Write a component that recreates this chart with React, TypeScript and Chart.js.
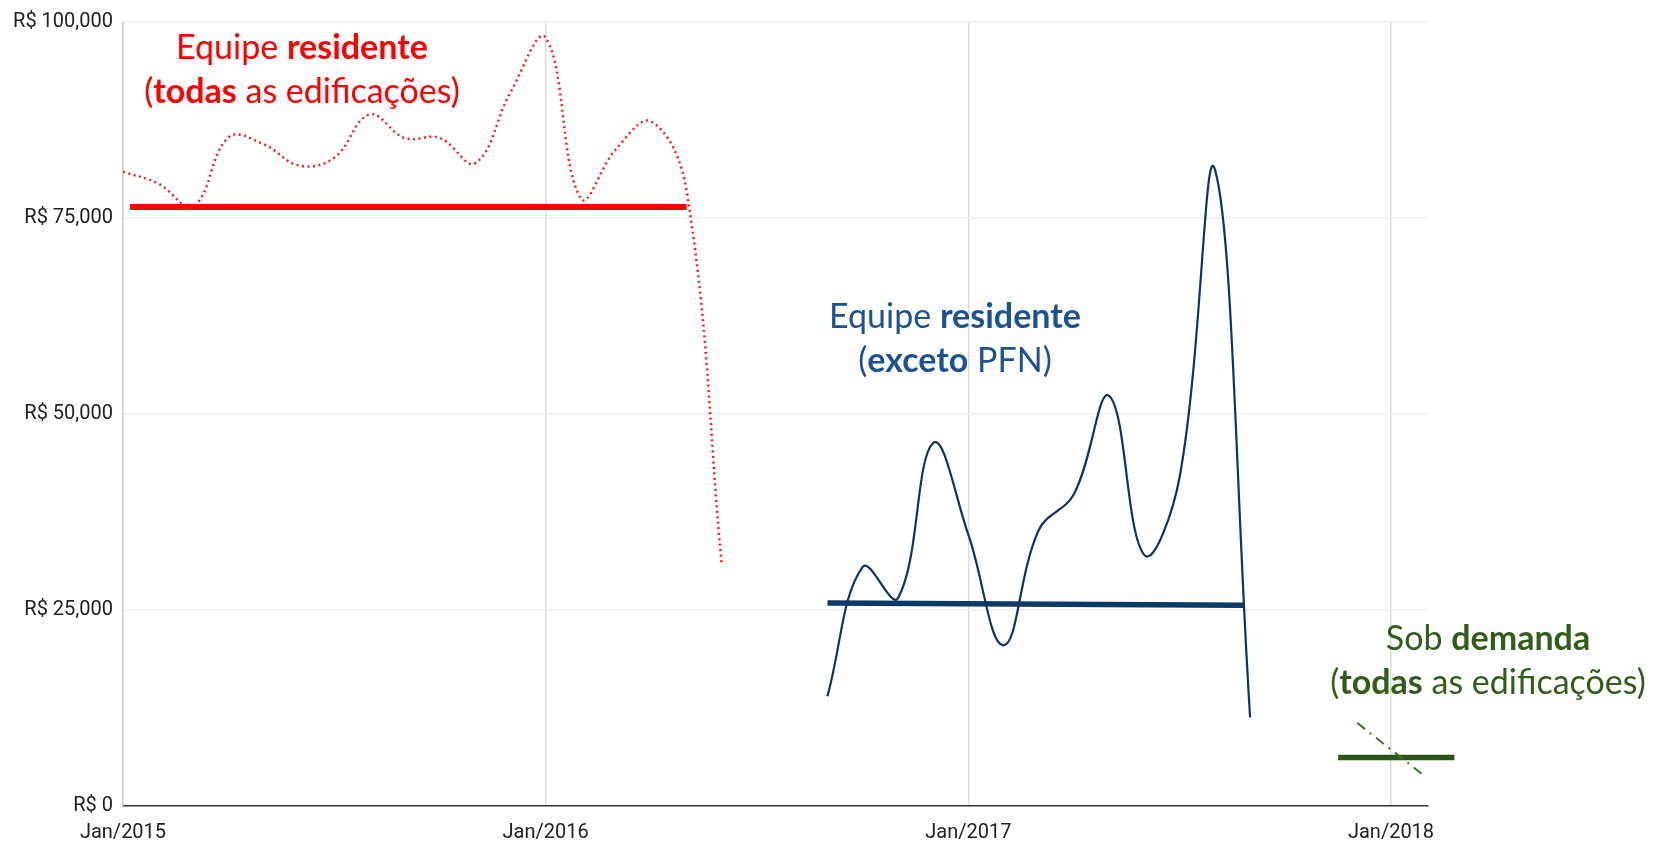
import React, { useEffect, useRef } from "react";
import { Chart, registerables } from "chart.js";

Chart.register(...registerables);

// months counted from Jan/2015 (0) ; Jan/2018 = 36
const xTickMonths = [0, 12, 24, 36];
const xTickLabels = ["Jan/2015", "Jan/2016", "Jan/2017", "Jan/2018"];
const yTicks = [0, 25000, 50000, 75000, 100000];

// Equipe residente (todas as edificações) – monthly cost
const redMonths = [0, 1, 2, 3, 4, 5, 6, 7, 8, 9, 10, 11, 12, 13, 14, 15, 16, 17];
const redValues = [80900, 79400, 76500, 85300, 84400, 81700, 82700, 88200, 85200, 85200, 82000, 91000, 98000, 77500, 83800, 87300, 78500, 30700];
// average line
const redAvgMonths = [0.2, 16];
const redAvgValues = [76400, 76400];

// Equipe residente (exceto PFN)
const blueMonths = [20, 21, 22, 23, 24, 25, 26, 27, 28, 29, 30, 31, 32];
const blueValues = [14000, 30500, 26500, 46300, 34600, 20500, 35200, 39800, 52300, 32000, 42000, 81200, 11300];
const blueAvgMonths = [20, 31.8];
const blueAvgValues = [25900, 25600];

// Sob demanda (todas as edificações)
const greenMonths = [35.04, 36.93];
const greenValues = [10600, 3900];
const greenAvgMonths = [34.5, 37.8];
const greenAvgValues = [6200, 6200];

const pts = (xs: number[], ys: number[]) => xs.map((x, i) => ({ x, y: ys[i] }));

export default function App() {
  const ref = useRef<HTMLCanvasElement | null>(null);

  useEffect(() => {
    document.body.style.margin = "0";
    const canvas = ref.current!;
    const chart = new Chart(canvas, {
      type: "line",
      data: {
        datasets: [
          {
            data: pts(redMonths, redValues),
            borderColor: "#ff1a1a",
            borderWidth: 2.5,
            borderDash: [2, 3.5],
            tension: 0.4,
            pointRadius: 0,
            fill: false,
          },
          {
            data: pts(redAvgMonths, redAvgValues),
            borderColor: "#ff0000",
            borderWidth: 6,
            pointRadius: 0,
            tension: 0,
          },
          {
            data: pts(blueMonths, blueValues),
            borderColor: "#0d3563",
            borderWidth: 2.2,
            tension: 0.4,
            pointRadius: 0,
          },
          {
            data: pts(blueAvgMonths, blueAvgValues),
            borderColor: "#0b3a68",
            borderWidth: 5.5,
            pointRadius: 0,
            tension: 0,
          },
          {
            data: pts(greenMonths, greenValues),
            borderColor: "#3a7a1c",
            borderWidth: 2,
            borderDash: [10, 6, 2, 6],
            pointRadius: 0,
            tension: 0,
            clip: false as any,
          },
          {
            data: pts(greenAvgMonths, greenAvgValues),
            borderColor: "#2b5716",
            borderWidth: 5.5,
            pointRadius: 0,
            tension: 0,
            clip: false as any,
          },
        ],
      },
      options: {
        animation: false,
        responsive: false,
        maintainAspectRatio: false,
        layout: { padding: { left: 0, top: 19, right: 227, bottom: 0 } },
        plugins: { legend: { display: false }, tooltip: { enabled: false } },
        scales: {
          x: {
            type: "linear",
            min: 0,
            max: 37.05,
            afterBuildTicks: (axis: any) => {
              axis.ticks = xTickMonths.map((v) => ({ value: v }));
            },
            afterFit: (s: any) => {
              s.height = 35;
            },
            ticks: {
              padding: 15,
              maxRotation: 0,
              autoSkip: false,
              color: "#222",
              font: { family: "Roboto", size: 20 },
              callback: (v: any) => {
                const i = xTickMonths.indexOf(Number(v));
                return i >= 0 ? xTickLabels[i] : "";
              },
            },
            grid: { color: "#dcdcdc", lineWidth: 1.5, drawTicks: false },
            border: { color: "#333", width: 1.5 },
          },
          y: {
            min: 0,
            max: 100000,
            afterBuildTicks: (axis: any) => {
              axis.ticks = yTicks.map((v) => ({ value: v }));
            },
            afterFit: (s: any) => {
              s.width = 123;
            },
            ticks: {
              padding: 10,
              color: "#222",
              font: { family: "Roboto", size: 20 },
              callback: (v: any) => "R$ " + Number(v).toLocaleString("en-US"),
            },
            grid: { color: "#efefef", lineWidth: 1.5, drawTicks: false },
            border: { color: "#d0d0d0", width: 1.5 },
          },
        },
      },
    });
    return () => chart.destroy();
  }, []);

  const txt: React.CSSProperties = {
    position: "absolute",
    transform: "translateX(-50%)",
    whiteSpace: "nowrap",
    textAlign: "center",
    fontFamily: "Lato, 'Open Sans', sans-serif",
    fontSize: 34,
    lineHeight: "44px",
  };

  return (
    <div style={{ position: "relative", width: 1655, height: 841, background: "#fff" }}>
      <canvas ref={ref} width={1655} height={841} style={{ display: "block" }} />
      <div style={{ ...txt, left: 302, top: 24, color: "#ff0000" }}>
        Equipe <b>residente</b>
        <br />(<b>todas</b> as edificações)
      </div>
      <div style={{ ...txt, left: 955, top: 293, color: "#1b5291" }}>
        Equipe <b>residente</b>
        <br />(<b>exceto</b> PFN)
      </div>
      <div style={{ ...txt, left: 1488, top: 615, color: "#2f5f17" }}>
        Sob <b>demanda</b>
        <br />(<b>todas</b> as edificações)
      </div>
    </div>
  );
}
